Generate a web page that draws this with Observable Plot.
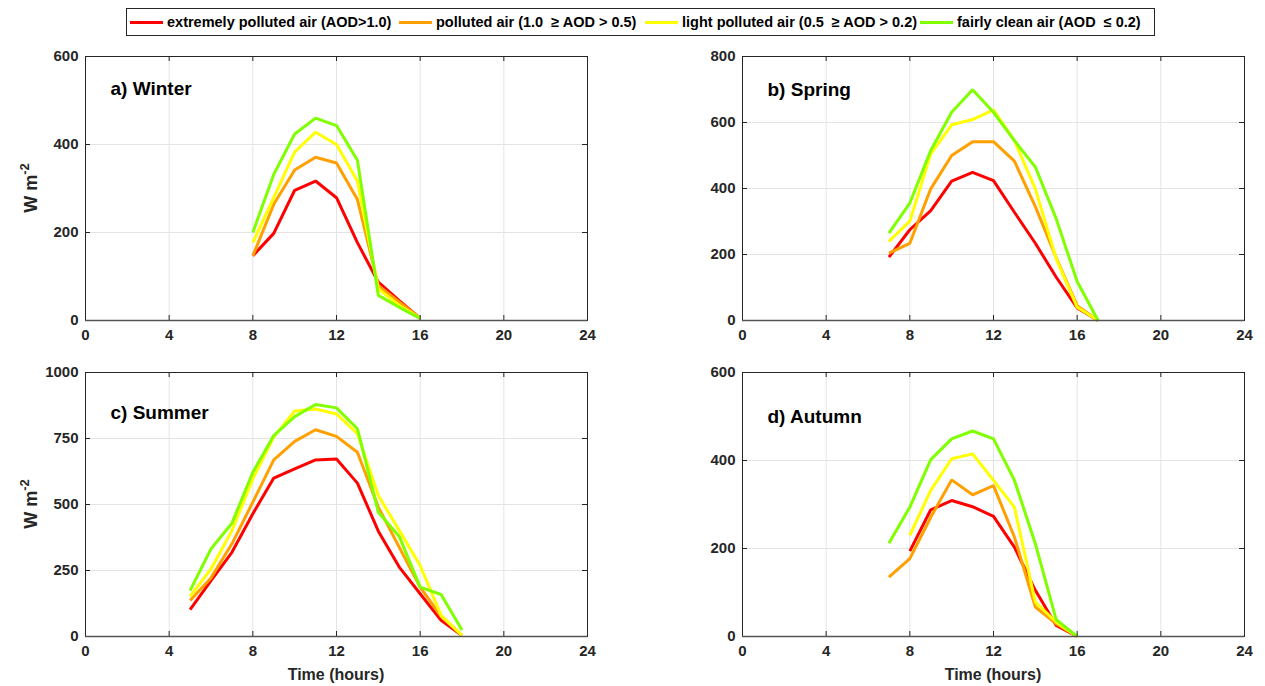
<!DOCTYPE html>
<html>
<head>
<meta charset="utf-8">
<script src="https://cdn.jsdelivr.net/npm/d3@7"></script>
<script src="https://cdn.jsdelivr.net/npm/@observablehq/plot@0.6"></script>
<style>
  html, body { margin: 0; padding: 0; background: #fff; }
  #wrap { position: relative; width: 1265px; height: 686px; overflow: hidden; font-family: "Liberation Sans", Arial, sans-serif; }
  .panel { position: absolute; }
  #legend { position: absolute; left: 126px; top: 8px; width: 1027px; height: 26px; border: 1px solid #262626; font-weight: bold; font-size: 14.5px; color: #000; white-space: pre; }
  .item { position: absolute; top: 0; height: 26px; display: flex; align-items: center; }
  .swatch { width: 33px; height: 3px; margin-right: 4px; }
</style>
</head>
<body>
<div id="wrap">
  <div id="legend"></div>
</div>
<script>
// ---- Series meta ----
const seriesNames = [
  "extremely polluted air (AOD>1.0)",
  "polluted air (1.0  \u2265 AOD > 0.5)",
  "light polluted air (0.5  \u2265 AOD > 0.2)",
  "fairly clean air (AOD  \u2264 0.2)"
];
const seriesColors = ["#ff0000", "#ffa000", "#ffff00", "#80ff00"];

// ---- Tick labels ----
const xTicks = [0, 4, 8, 12, 16, 20, 24];
const yTicks600 = [0, 200, 400, 600];
const yTicks800 = [0, 200, 400, 600, 800];
const yTicks1000 = [0, 250, 500, 750, 1000];

// ---- a) Winter ----
const winterHours  = [8, 9, 10, 11, 12, 13, 14, 15, 16];
const winterRed    = [147, 198, 296, 317, 279, 177, 87, 45, 5];
const winterOrange = [147, 264, 342, 371, 358, 275, 79, 42, 5];
const winterYellow = [177, 279, 383, 428, 400, 317, 72, 34, 5];
const winterGreen  = [200, 332, 424, 460, 443, 364, 57, 30, 5];

// ---- b) Spring ----
const springHours  = [7, 8, 9, 10, 11, 12, 13, 14, 15, 16, 17];
const springRed    = [192, 275, 333, 422, 449, 424, 328, 234, 131, 38, 0];
const springOrange = [204, 234, 399, 500, 542, 542, 483, 345, 190, 45, 0];
const springYellow = [240, 301, 505, 593, 609, 638, 545, 399, 187, 40, 0];
const springGreen  = [265, 356, 515, 631, 699, 631, 545, 465, 308, 118, 0];

// ---- c) Summer ----
const summerHours  = [5, 6, 7, 8, 9, 10, 11, 12, 13, 14, 15, 16, 17, 18];
const summerRed    = [102, 212, 319, 465, 600, 635, 669, 672, 581, 399, 263, 162, 61, 4];
const summerOrange = [136, 222, 351, 509, 669, 739, 783, 758, 698, 490, 338, 187, 76, 4];
const summerYellow = [152, 256, 401, 597, 755, 854, 862, 843, 768, 534, 402, 269, 80, 4];
const summerGreen  = [174, 332, 429, 622, 761, 833, 879, 866, 787, 471, 379, 187, 159, 25];

// ---- d) Autumn ----
const autumnHours  = [7, 8, 9, 10, 11, 12, 13, 14, 15, 16];
const autumnRed    = [null, 194, 288, 309, 295, 273, 203, 105, 25, 0];
const autumnOrange = [135, 177, 271, 356, 322, 343, 226, 67, 29, 0];
const autumnYellow = [null, 230, 332, 404, 415, 355, 294, 78, 33, 0];
const autumnGreen  = [212, 294, 402, 449, 467, 449, 355, 211, 38, 0];

// ---- Legend ----
const legendOffsets = [3, 272, 518, 793];
const legend = document.getElementById("legend");
seriesNames.forEach((n, i) => {
  const it = document.createElement("div"); it.className = "item";
  it.style.left = legendOffsets[i] + "px";
  const sw = document.createElement("div"); sw.className = "swatch"; sw.style.background = seriesColors[i];
  const tx = document.createElement("span"); tx.textContent = n;
  it.appendChild(sw); it.appendChild(tx); legend.appendChild(it);
});

const wrap = document.getElementById("wrap");
const mL = 85, mT = 16, mR = 20, mB = 50;
const plotW = 502, plotH = 264;
const ink = "#262626";

function panel({hours, values, ymax, yTicks, title, titleDy, left, top, yLabel, xLabel}) {
  const lineMarks = values.map((vals, i) =>
    Plot.line(hours.map((h, j) => ({hour: h, value: vals[j]})), {
      x: "hour", y: "value", stroke: seriesColors[i], strokeWidth: 3, strokeLinejoin: "miter", strokeLinecap: "butt"
    })
  );
  const innerX = xTicks.filter(t => t > 0 && t < 24);
  const innerY = yTicks.filter(t => t > 0 && t < ymax);
  const plot = Plot.plot({
    width: mL + plotW + mR,
    height: mT + plotH + mB,
    marginLeft: mL, marginRight: mR, marginTop: mT, marginBottom: mB,
    x: {domain: [0, 24], axis: null},
    y: {domain: [0, ymax], axis: null},
    style: {fontFamily: "'Liberation Sans', Arial, sans-serif", fontWeight: "bold", fontSize: "15px", color: ink, background: "transparent", overflow: "visible"},
    marks: [
      Plot.ruleX(innerX, {stroke: "#e4e4e4", strokeWidth: 1}),
      Plot.ruleY(innerY, {stroke: "#e4e4e4", strokeWidth: 1}),
      ...lineMarks,
      Plot.ruleX(xTicks, {stroke: ink, insetTop: plotH - 5}),
      Plot.ruleX(xTicks, {stroke: ink, insetBottom: plotH - 5}),
      Plot.ruleY(yTicks, {stroke: ink, insetRight: plotW - 5}),
      Plot.ruleY(yTicks, {stroke: ink, insetLeft: plotW - 5}),
      Plot.frame({stroke: ink, strokeWidth: 1}),
      Plot.ruleY([0], {stroke: "#555", strokeWidth: 1.5}),
      Plot.axisX({ticks: xTicks, tickSize: 0, tickPadding: 9, tickFormat: d => String(d), label: null, fontSize: 15, fill: ink}),
      Plot.axisY({ticks: yTicks, tickSize: 0, tickPadding: 7, tickFormat: d => String(d), label: null, fontSize: 15, fill: ink}),
      Plot.text([title], {frameAnchor: "top-left", dx: 25, dy: titleDy, textAnchor: "start", fontSize: 19, fontWeight: "bold", fill: "#000"})
    ]
  });
  plot.classList.add("panel");
  plot.style.left = left + "px";
  plot.style.top = top + "px";
  const s = d3.select(plot);
  if (xLabel) {
    const xs = plot.scale("x");
    s.append("text")
      .attr("x", xs.apply(12)).attr("y", mT + plotH + 44)
      .attr("text-anchor", "middle").attr("font-size", 16).attr("font-weight", "bold").attr("fill", ink)
      .text(xLabel);
  }
  if (yLabel) {
    const ys = plot.scale("y");
    const cy = ys.apply(ymax / 2);
    const t = s.append("text")
      .attr("transform", `translate(37,${cy}) rotate(-90)`)
      .attr("text-anchor", "middle").attr("font-size", 18).attr("font-weight", "bold").attr("fill", ink);
    t.append("tspan").text(yLabel);
    t.append("tspan").attr("font-size", 13).attr("dy", -8).text("-2");
  }
  wrap.appendChild(plot);
}

panel({hours: winterHours, values: [winterRed, winterOrange, winterYellow, winterGreen], ymax: 600, yTicks: yTicks600,
  title: "a) Winter", titleDy: 25, left: 0, top: 40, yLabel: "W m", xLabel: null});
panel({hours: springHours, values: [springRed, springOrange, springYellow, springGreen], ymax: 800, yTicks: yTicks800,
  title: "b) Spring", titleDy: 26, left: 657, top: 40, yLabel: null, xLabel: null});
panel({hours: summerHours, values: [summerRed, summerOrange, summerYellow, summerGreen], ymax: 1000, yTicks: yTicks1000,
  title: "c) Summer", titleDy: 33, left: 0, top: 356, yLabel: "W m", xLabel: "Time (hours)"});
panel({hours: autumnHours, values: [autumnRed, autumnOrange, autumnYellow, autumnGreen], ymax: 600, yTicks: yTicks600,
  title: "d) Autumn", titleDy: 37, left: 657, top: 356, yLabel: null, xLabel: "Time (hours)"});
</script>
</body>
</html>
